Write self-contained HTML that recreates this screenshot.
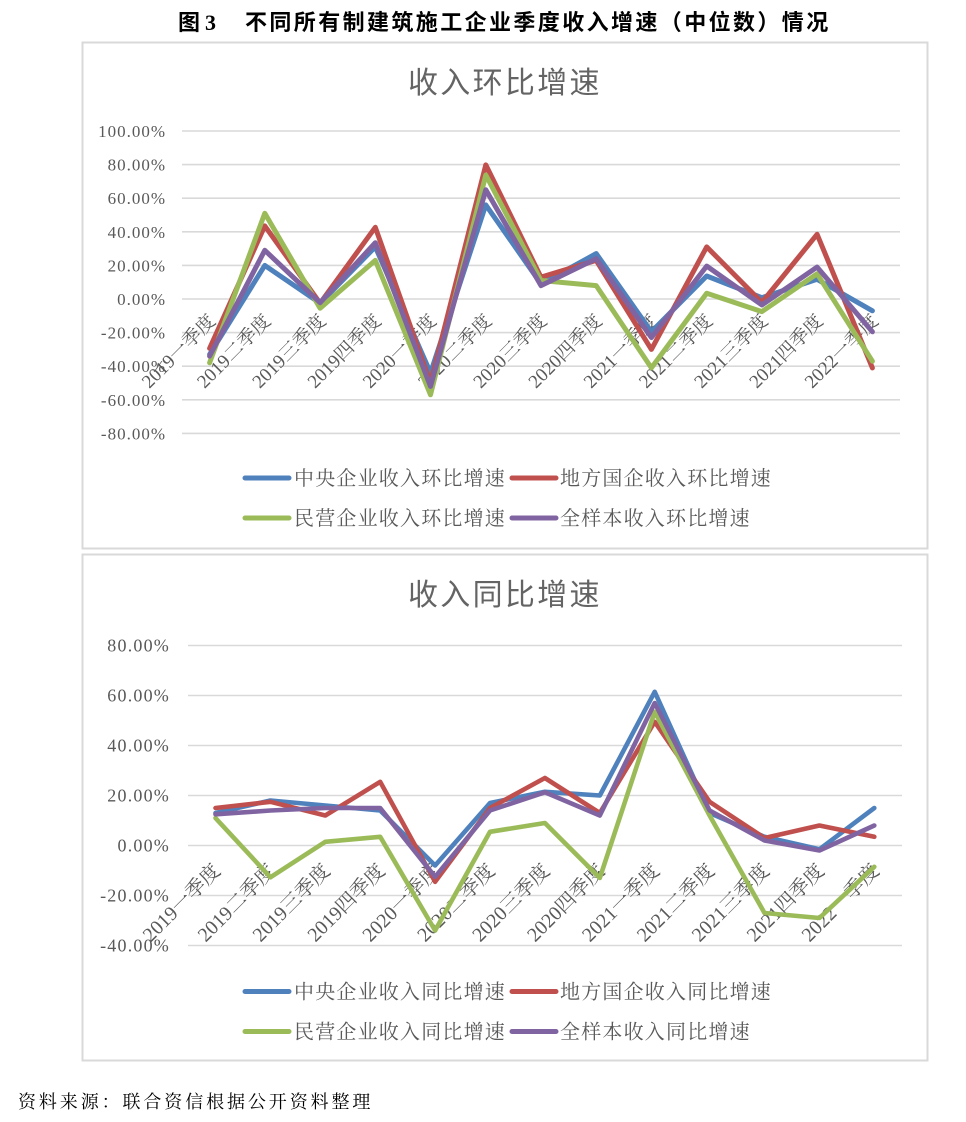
<!DOCTYPE html>
<html><head><meta charset="utf-8"><style>
html,body{margin:0;padding:0;background:#fff;}
svg{display:block;}
.t{font-family:"Liberation Serif","Noto Serif CJK SC",serif;fill:#595959;}
.yl{font-family:"Liberation Serif",serif;fill:#595959;}
.lg{font-family:"Liberation Serif","Noto Serif CJK SC",serif;fill:#595959;font-size:20px;letter-spacing:1.2px;}
.ct{font-family:"Liberation Sans","Noto Sans CJK SC",sans-serif;fill:#646464;font-size:30px;letter-spacing:2.3px;}
</style></head><body>
<svg width="966" height="1122" viewBox="0 0 966 1122" xmlns="http://www.w3.org/2000/svg">
<rect width="966" height="1122" fill="#fff"/>
<text x="178" y="30" style="font-family:'Liberation Sans','Noto Sans CJK SC',sans-serif;font-weight:bold;font-size:22px;fill:#000">图</text>
<text x="205" y="30" style="font-family:'Liberation Serif',serif;font-weight:bold;font-size:22px;fill:#000">3</text>
<text x="245" y="30" style="font-family:'Liberation Sans','Noto Sans CJK SC',sans-serif;font-weight:bold;font-size:22px;letter-spacing:2.4px;fill:#000">不同所有制建筑施工企业季度收入增速（中位数）情况</text>

<rect x="82.5" y="42.5" width="845" height="506" fill="#fff" stroke="#D9D9D9" stroke-width="2"/>
<rect x="82.5" y="554.5" width="845" height="506" fill="#fff" stroke="#D9D9D9" stroke-width="2"/>

<text class="ct" x="408" y="93">收入环比增速</text>
<text class="ct" x="408" y="605">收入同比增速</text>

<g id="top"></g>
<g id="bot"></g>

<g>
<line x1="245" y1="478" x2="289" y2="478" stroke="#4F81BD" stroke-width="5" stroke-linecap="round"/>
<text class="lg" x="294" y="485">中央企业收入环比增速</text>
<line x1="512" y1="478" x2="556" y2="478" stroke="#C0504D" stroke-width="5" stroke-linecap="round"/>
<text class="lg" x="560" y="485">地方国企收入环比增速</text>
<line x1="245" y1="518" x2="289" y2="518" stroke="#9BBB59" stroke-width="5" stroke-linecap="round"/>
<text class="lg" x="294" y="525">民营企业收入环比增速</text>
<line x1="512" y1="518" x2="556" y2="518" stroke="#8064A2" stroke-width="5" stroke-linecap="round"/>
<text class="lg" x="560" y="525">全样本收入环比增速</text>

<line x1="245" y1="991.5" x2="289" y2="991.5" stroke="#4F81BD" stroke-width="5" stroke-linecap="round"/>
<text class="lg" x="294" y="998.5">中央企业收入同比增速</text>
<line x1="512" y1="991.5" x2="556" y2="991.5" stroke="#C0504D" stroke-width="5" stroke-linecap="round"/>
<text class="lg" x="560" y="998.5">地方国企收入同比增速</text>
<line x1="245" y1="1031.5" x2="289" y2="1031.5" stroke="#9BBB59" stroke-width="5" stroke-linecap="round"/>
<text class="lg" x="294" y="1038.5">民营企业收入同比增速</text>
<line x1="512" y1="1031.5" x2="556" y2="1031.5" stroke="#8064A2" stroke-width="5" stroke-linecap="round"/>
<text class="lg" x="560" y="1038.5">全样本收入同比增速</text>
</g>

<text x="18" y="1108" style="font-family:'Liberation Serif','Noto Serif CJK SC',serif;font-size:18px;letter-spacing:2.9px;fill:#000">资料来源：联合资信根据公开资料整理</text>

<!-- TOP CHART -->
<g stroke="#D9D9D9" stroke-width="1.6">
<line x1="182" y1="131" x2="900" y2="131"/>
<line x1="182" y1="164.6" x2="900" y2="164.6"/>
<line x1="182" y1="198.2" x2="900" y2="198.2"/>
<line x1="182" y1="231.8" x2="900" y2="231.8"/>
<line x1="182" y1="265.4" x2="900" y2="265.4"/>
<line x1="182" y1="299" x2="900" y2="299"/>
<line x1="182" y1="332.6" x2="900" y2="332.6"/>
<line x1="182" y1="366.2" x2="900" y2="366.2"/>
<line x1="182" y1="399.8" x2="900" y2="399.8"/>
<line x1="182" y1="433.4" x2="900" y2="433.4"/>
</g>
<g class="yl" font-size="17" letter-spacing="1" text-anchor="end">
<text x="166" y="137">100.00%</text>
<text x="166" y="170.6">80.00%</text>
<text x="166" y="204.2">60.00%</text>
<text x="166" y="237.8">40.00%</text>
<text x="166" y="271.4">20.00%</text>
<text x="166" y="305">0.00%</text>
<text x="166" y="338.6">-20.00%</text>
<text x="166" y="372.2">-40.00%</text>
<text x="166" y="405.8">-60.00%</text>
<text x="166" y="439.4">-80.00%</text>
</g>
<g class="t" font-size="19" text-anchor="end">
<text transform="translate(216.6,322) rotate(-45)">2019一季度</text>
<text transform="translate(271.8,322) rotate(-45)">2019二季度</text>
<text transform="translate(327.1,322) rotate(-45)">2019三季度</text>
<text transform="translate(382.3,322) rotate(-45)">2019四季度</text>
<text transform="translate(437.5,322) rotate(-45)">2020一季度</text>
<text transform="translate(492.8,322) rotate(-45)">2020二季度</text>
<text transform="translate(548.0,322) rotate(-45)">2020三季度</text>
<text transform="translate(603.2,322) rotate(-45)">2020四季度</text>
<text transform="translate(658.4,322) rotate(-45)">2021一季度</text>
<text transform="translate(713.7,322) rotate(-45)">2021二季度</text>
<text transform="translate(768.9,322) rotate(-45)">2021三季度</text>
<text transform="translate(824.1,322) rotate(-45)">2021四季度</text>
<text transform="translate(879.4,322) rotate(-45)">2022一季度</text>
</g>
<g fill="none" stroke-width="5" stroke-linejoin="round" stroke-linecap="round">
<polyline stroke="#4F81BD" points="209.6,354.4 264.8,265.4 320.1,303.2 375.3,246.9 430.5,372.9 485.8,204.9 541.0,283.9 596.2,253.6 651.4,331.8 706.7,276.0 761.9,297.7 817.1,279.3 872.4,310.8"/>
<polyline stroke="#C0504D" points="209.6,348.4 264.8,225.9 320.1,303.2 375.3,227.3 430.5,383.0 485.8,164.9 541.0,277.2 596.2,260.4 651.4,349.4 706.7,246.9 761.9,302.4 817.1,234.3 872.4,367.9"/>
<polyline stroke="#9BBB59" points="209.6,362.8 264.8,213.3 320.1,308.2 375.3,260.4 430.5,394.8 485.8,175.0 541.0,280.5 596.2,285.6 651.4,367.9 706.7,293.3 761.9,311.6 817.1,273.8 872.4,361.2"/>
<polyline stroke="#8064A2" points="209.6,356.1 264.8,250.3 320.1,302.7 375.3,242.7 430.5,386.4 485.8,189.8 541.0,285.6 596.2,258.7 651.4,337.6 706.7,266.1 761.9,305.0 817.1,267.1 872.4,331.8"/>
</g>

<!-- BOTTOM CHART -->
<g stroke="#D9D9D9" stroke-width="1.6">
<line x1="188" y1="645.5" x2="902" y2="645.5"/>
<line x1="188" y1="695.5" x2="902" y2="695.5"/>
<line x1="188" y1="745.5" x2="902" y2="745.5"/>
<line x1="188" y1="795.5" x2="902" y2="795.5"/>
<line x1="188" y1="845.5" x2="902" y2="845.5"/>
<line x1="188" y1="895.5" x2="902" y2="895.5"/>
<line x1="188" y1="945.5" x2="902" y2="945.5"/>
</g>
<g class="yl" font-size="18" letter-spacing="1.2" text-anchor="end">
<text x="170" y="651.5">80.00%</text>
<text x="170" y="701.5">60.00%</text>
<text x="170" y="751.5">40.00%</text>
<text x="170" y="801.5">20.00%</text>
<text x="170" y="851.5">0.00%</text>
<text x="170" y="901.5">-20.00%</text>
<text x="170" y="951.5">-40.00%</text>
</g>
<g class="t" font-size="20" text-anchor="end">
<text transform="translate(221.5,872) rotate(-45)">2019一季度</text>
<text transform="translate(276.4,872) rotate(-45)">2019二季度</text>
<text transform="translate(331.3,872) rotate(-45)">2019三季度</text>
<text transform="translate(386.2,872) rotate(-45)">2019四季度</text>
<text transform="translate(441.1,872) rotate(-45)">2020一季度</text>
<text transform="translate(496.0,872) rotate(-45)">2020二季度</text>
<text transform="translate(550.9,872) rotate(-45)">2020三季度</text>
<text transform="translate(605.8,872) rotate(-45)">2020四季度</text>
<text transform="translate(660.7,872) rotate(-45)">2021一季度</text>
<text transform="translate(715.6,872) rotate(-45)">2021二季度</text>
<text transform="translate(770.5,872) rotate(-45)">2021三季度</text>
<text transform="translate(825.4,872) rotate(-45)">2021四季度</text>
<text transform="translate(880.3,872) rotate(-45)">2022一季度</text>
</g>
<g fill="none" stroke-width="4.6" stroke-linejoin="round" stroke-linecap="round">
<polyline stroke="#4F81BD" points="215.5,813.0 270.4,800.5 325.3,805.5 380.2,810.5 435.1,865.5 490.0,803.0 544.9,791.8 599.8,795.5 654.7,691.8 709.6,813.0 764.5,836.8 819.4,849.3 874.3,808.0"/>
<polyline stroke="#C0504D" points="215.5,808.0 270.4,801.8 325.3,815.5 380.2,781.8 435.1,881.8 490.0,808.0 544.9,778.0 599.8,813.0 654.7,721.8 709.6,801.8 764.5,838.0 819.4,825.5 874.3,836.8"/>
<polyline stroke="#9BBB59" points="215.5,818.0 270.4,877.3 325.3,841.8 380.2,836.8 435.1,930.5 490.0,831.8 544.9,823.0 599.8,878.0 654.7,711.8 709.6,815.5 764.5,913.0 819.4,918.0 874.3,866.8"/>
<polyline stroke="#8064A2" points="215.5,814.3 270.4,810.5 325.3,808.0 380.2,808.0 435.1,876.8 490.0,810.5 544.9,792.3 599.8,815.5 654.7,703.0 709.6,810.5 764.5,840.5 819.4,850.5 874.3,825.5"/>
</g>
</svg>
</body></html>
